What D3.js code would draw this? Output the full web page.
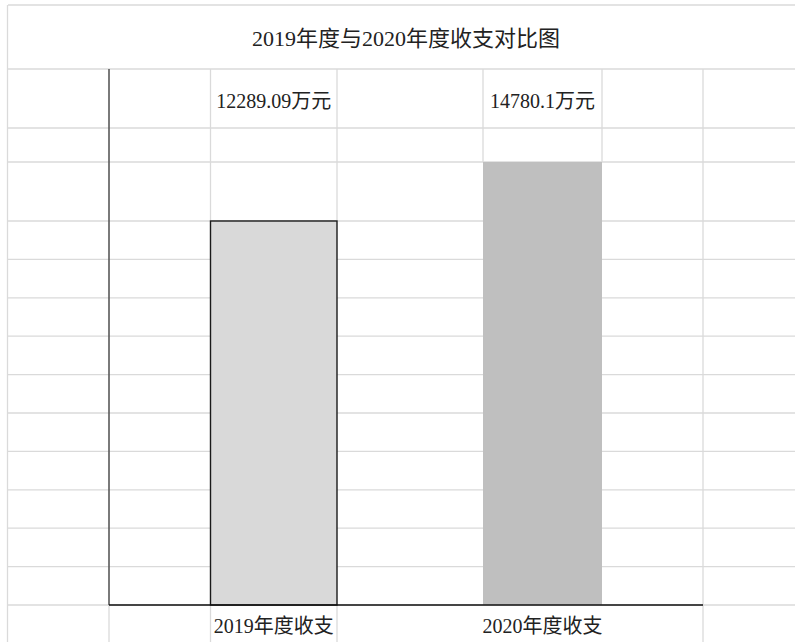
<!DOCTYPE html>
<html>
<head>
<meta charset="utf-8">
<script src="https://cdn.jsdelivr.net/npm/d3@7"></script>
<style>
  body { margin: 0; background: #fff; }
  text { font-family: "Liberation Serif", "Noto Sans CJK SC", serif; fill: #222; }
</style>
</head>
<body>
<div id="chart"></div>
<script>
// data
var title = "2019年度与2020年度收支对比图";
var categories = ["2019年度收支", "2020年度收支"];
var values = [12289.09, 14780.1];
var valueLabels = ["12289.09万元", "14780.1万元"];
var barFills = ["#d9d9d9", "#bfbfbf"];

var width = 795, height = 642;
var gridColour = "#dadada";

var svg = d3.select("#chart").append("svg")
    .attr("width", width)
    .attr("height", height);

// sheet rows / columns (cell borders behind the chart)
var rowLines = [5, 69, 128, 162];
for (var i = 1; i <= 10; i++) rowLines.push(221 + i * 38.4);
rowLines.splice(4, 0, 221);
var colSegments = [
    [7.5, 5, 642], [109, 605, 642],
    [210.5, 69, 221], [210.5, 605, 642],
    [337, 69, 221], [337, 605, 642],
    [483, 69, 162], [602, 69, 162],
    [703, 69, 642]
];

svg.selectAll(".row").data(rowLines).enter().append("line")
    .attr("class", "row")
    .attr("x1", 8).attr("x2", width)
    .attr("y1", function(d) { return d; })
    .attr("y2", function(d) { return d; })
    .attr("stroke", gridColour).attr("stroke-width", 1.3);

svg.selectAll(".col").data(colSegments).enter().append("line")
    .attr("class", "col")
    .attr("x1", function(d) { return d[0]; })
    .attr("x2", function(d) { return d[0]; })
    .attr("y1", function(d) { return d[1]; })
    .attr("y2", function(d) { return d[2]; })
    .attr("stroke", gridColour).attr("stroke-width", 1.3);

// scales: bars sit in fixed sheet columns, value origin
var xLeft = d3.scaleOrdinal().domain(categories).range([210.5, 483]);
var xRight = d3.scaleOrdinal().domain(categories).range([337, 602]);
var y = d3.scaleLinear().domain([-3924, 14780.1]).range([605, 162]);

// bars
svg.selectAll(".bar").data(categories).enter().append("rect")
    .attr("class", "bar")
    .attr("x", function(d) { return xLeft(d); })
    .attr("width", function(d) { return xRight(d) - xLeft(d); })
    .attr("y", function(d, i) { return y(values[i]); })
    .attr("height", function(d, i) { return y.range()[0] - y(values[i]); })
    .attr("fill", function(d, i) { return barFills[i]; })
    .attr("stroke", function(d, i) { return i == 0 ? "#1a1a1a" : "none"; })
    .attr("stroke-width", 1.4);

// axis lines
svg.append("line")
    .attr("x1", 109).attr("x2", 109).attr("y1", 69).attr("y2", 605)
    .attr("stroke", "#595959").attr("stroke-width", 1.6);
svg.append("line")
    .attr("x1", 109).attr("x2", 703).attr("y1", 605).attr("y2", 605)
    .attr("stroke", "#111").attr("stroke-width", 1.6);

// title
svg.append("text")
    .attr("x", 406).attr("y", 38)
    .attr("text-anchor", "middle")
    .attr("dominant-baseline", "central")
    .style("font-size", "22px")
    .text(title);

// value labels
svg.selectAll(".vlabel").data(categories).enter().append("text")
    .attr("class", "vlabel")
    .attr("x", function(d) { return (xLeft(d) + xRight(d)) / 2; })
    .attr("y", 101)
    .attr("text-anchor", "middle")
    .attr("dominant-baseline", "central")
    .style("font-size", "20px")
    .text(function(d, i) { return valueLabels[i]; });

// category labels
svg.selectAll(".clabel").data(categories).enter().append("text")
    .attr("class", "clabel")
    .attr("x", function(d) { return (xLeft(d) + xRight(d)) / 2; })
    .attr("y", 626)
    .attr("text-anchor", "middle")
    .attr("dominant-baseline", "central")
    .style("font-size", "20px")
    .text(function(d) { return d; });
</script>
</body>
</html>
